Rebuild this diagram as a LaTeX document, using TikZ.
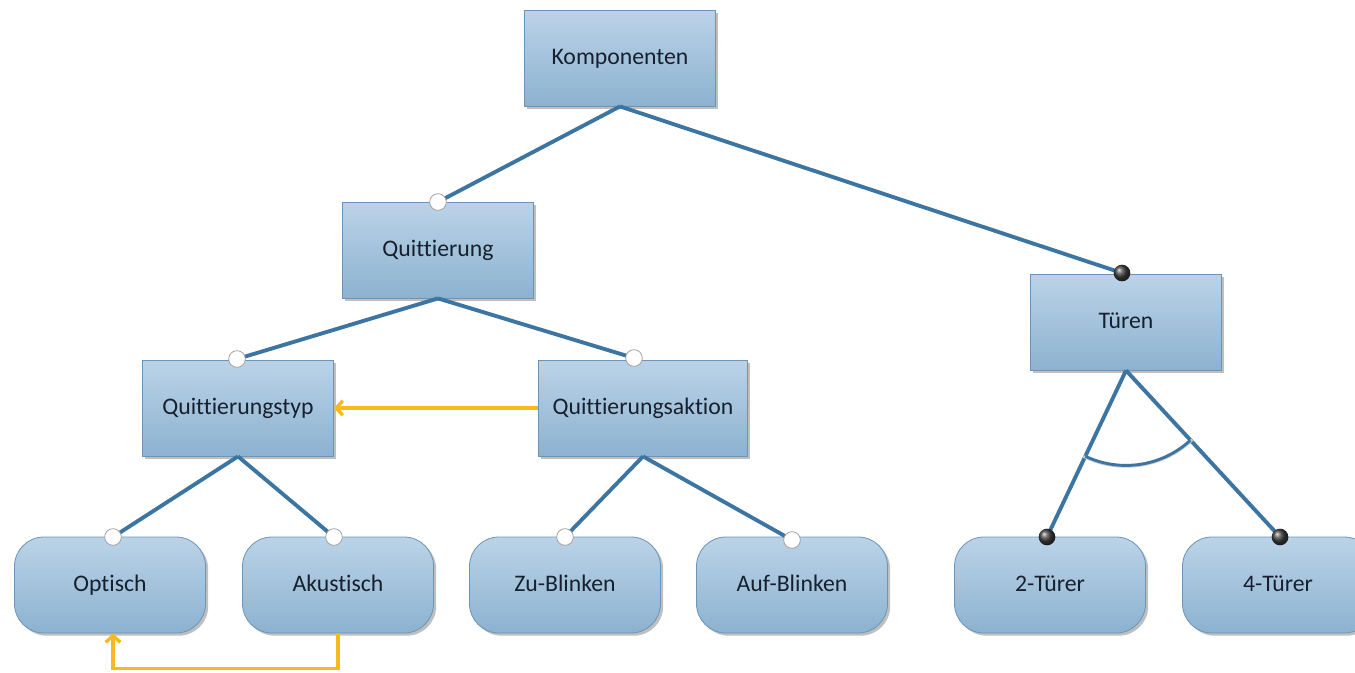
\documentclass[tikz,border=0pt]{standalone}
\usepackage{fontspec}
\setmainfont[Ligatures=NoCommon]{Carlito}
\usetikzlibrary{arrows.meta,shadows,calc}
\definecolor{edge}{HTML}{3C75A1}
\definecolor{boxtop}{HTML}{BBD3E7}
\definecolor{boxbot}{HTML}{8CB2D0}
\definecolor{boxline}{HTML}{6A95B8}
\definecolor{flow}{HTML}{F6BA1C}
\definecolor{ink}{HTML}{17202E}
\begin{document}
\begin{tikzpicture}[x=0.75pt,y=-0.75pt,
  feature/.style={draw=boxline, line width=0.6pt, top color=boxtop, bottom color=boxbot,
    minimum width=143.25pt, minimum height=72pt, inner sep=0pt,
    font=\fontsize{17.8}{20}\selectfont, text=ink, text height=0.9em, text depth=0pt,
    drop shadow={shadow xshift=2pt, shadow yshift=-2pt, fill=black, opacity=0.25}},
  leaf/.style={feature, rounded corners=22pt},
  link/.style={draw=edge, line width=2.9pt},
  opt/.style={circle, draw=gray!75, line width=0.6pt, fill=white, inner sep=0pt, minimum size=12.5pt},
  mand/.style={circle, ball color=black!75, inner sep=0pt, minimum size=12.5pt},
  flowarrow/.style={draw=flow, line width=2.5pt, -{Straight Barb[length=5pt,width=11pt]}}]

\useasboundingbox (0,0) rectangle (1355,672);

% feature boxes
\node[feature] (kom) at (620,58)  {Komponenten};
\node[feature] (qui) at (438,250) {Quittierung};
\node[feature] (tur) at (1126,322) {Türen};
\node[feature] (typ) at (238,408) {Quittierungstyp};
\node[feature, minimum width=156.75pt] (akt) at (643,408) {Quittierungsaktion};
\node[leaf] (opt) at (110,585) {Optisch};
\node[leaf] (aku) at (338,585) {Akustisch};
\node[leaf] (zub) at (565,585) {Zu-Blinken};
\node[leaf] (aub) at (792,585) {Auf-Blinken};
\node[leaf] (t2)  at (1050,585) {2-Türer};
\node[leaf] (t4)  at (1278,585) {4-Türer};

% attachment points on the child boxes
\coordinate (cqui) at (438,202);
\coordinate (ctur) at (1122,273);
\coordinate (ctyp) at (237,359);
\coordinate (cakt) at (634,358);
\coordinate (copt) at (113,537);
\coordinate (caku) at (334,537);
\coordinate (czub) at (565,537);
\coordinate (caub) at (792,540);
\coordinate (ct2)  at (1047,537);
\coordinate (ct4)  at (1280,537);

% tree connectors
\draw[link] (kom.south) -- (cqui);
\draw[link] (kom.south) -- (ctur);
\draw[link] (qui.south) -- (ctyp);
\draw[link] (qui.south) -- (cakt);
\draw[link] (typ.south) -- (copt);
\draw[link] (typ.south) -- (caku);
\draw[link] (akt.south) -- (czub);
\draw[link] (akt.south) -- (caub);
\draw[link] (tur.south) -- (ct2);
\draw[link] (tur.south) -- (ct4);

% alternative group arc
\draw[gray!40, line width=2pt] ([shift={(116.3:96)}]tur.south) arc[start angle=116.3, end angle=46.3, radius=96];
\draw[edge, line width=2.2pt] ([shift={(115.3:95)}]tur.south) arc[start angle=115.3, end angle=47.3, radius=95];

% optional / mandatory markers
\node[opt]  (mqui) at (cqui) {};
\node[mand] (mtur) at (ctur) {};
\node[opt]  (mtyp) at (ctyp) {};
\node[opt]  (makt) at (cakt) {};
\node[opt]  (mopt) at (copt) {};
\node[opt]  (maku) at (caku) {};
\node[opt]  (mzub) at (czub) {};
\node[opt]  (maub) at (caub) {};
\node[mand] (mt2)  at (ct2) {};
\node[mand] (mt4)  at (ct4) {};

% cross-tree dependencies
\draw[flowarrow] (akt.west) -- (typ.east);
\draw[flowarrow] (aku.south) -- ++(0,35) -| ([xshift=2.25pt]opt.south);
\end{tikzpicture}
\end{document}
